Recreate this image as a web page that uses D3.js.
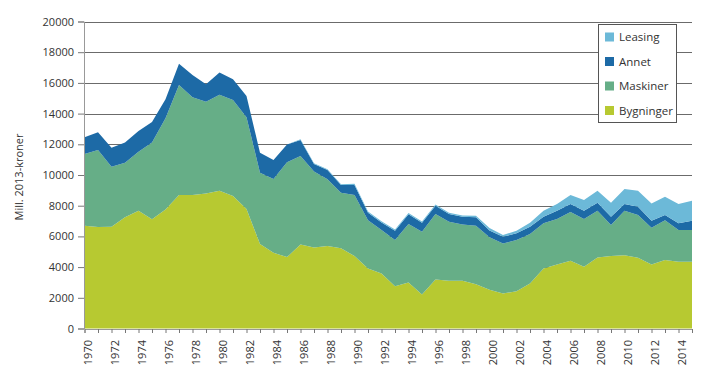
<!DOCTYPE html>
<html><head><meta charset="utf-8">
<script src="https://cdn.jsdelivr.net/npm/d3@7"></script>
<style>body{margin:0;background:#fff}svg{display:block}text{font-family:"Open Sans",sans-serif}</style>
</head><body><svg id="c" width="719" height="383"></svg>
<script>
const years = d3.range(1970, 2016);
const bygninger = [6700,6610,6630,7240,7670,7110,7760,8700,8700,8800,8980,8630,7780,5500,4930,4650,5480,5280,5370,5220,4720,3910,3590,2760,3000,2220,3200,3110,3110,2890,2520,2280,2430,2930,3910,4170,4410,4020,4630,4720,4780,4610,4170,4460,4350,4350];
const maskiner = [4670,5020,3910,3560,3850,5000,5940,7170,6370,5980,6240,6260,5980,4650,4810,6180,5760,4940,4350,3630,3980,3150,2820,3000,3800,4080,4260,3850,3670,3800,3430,3260,3330,3220,2940,2960,3180,3110,3040,2020,2890,2780,2390,2600,2060,2060];
const annet = [1090,1160,1240,1310,1350,1350,1240,1370,1450,1140,1450,1350,1390,1300,1240,1150,1040,500,610,500,650,480,500,610,640,590,540,500,500,550,440,440,440,480,430,540,520,540,520,540,440,540,460,330,440,610];
const leasing = [0,0,0,0,0,0,0,0,0,0,0,0,0,0,0,0,50,50,50,50,80,80,80,80,80,80,80,80,80,100,150,110,170,260,390,440,590,700,790,910,980,1050,1130,1200,1260,1310];
const seriesNames = ["Bygninger","Maskiner","Annet","Leasing"];
const colors = {"Bygninger":"#b7c931","Maskiner":"#66ae87","Annet":"#1d6aa6","Leasing":"#6cb9d8"};
const yTicks = [0,2000,4000,6000,8000,10000,12000,14000,16000,18000,20000];
const yTitle = "Mill. 2013-kroner";

const rows = years.map((y,i)=>({year:y,Bygninger:bygninger[i],Maskiner:maskiner[i],Annet:annet[i],Leasing:leasing[i]}));
const svg = d3.select("#c");
const x = d3.scaleLinear().domain([1970,2015]).range([84.5,692]);
const yS = d3.scaleLinear().domain([0,20000]).range([328.5,21.5]);

// gridlines
svg.append("g").selectAll("line").data(yTicks.filter(d=>d>0)).join("line")
  .attr("x1",84.5).attr("x2",692).attr("y1",d=>Math.round(yS(d))+0.5).attr("y2",d=>Math.round(yS(d))+0.5)
  .attr("stroke","#6b6b6b").attr("stroke-width",1);

const stack = d3.stack().keys(seriesNames)(rows);
const area = d3.area().x(d=>x(d.data.year)).y0(d=>yS(d[0])).y1(d=>yS(d[1]));
svg.append("g").selectAll("path").data(stack).join("path")
  .attr("d",area).attr("fill",d=>colors[d.key]);

// y axis
const ya = svg.append("g").attr("transform","translate(84,0)")
  .call(d3.axisLeft(yS).tickValues(yTicks).tickSize(6).tickPadding(4).tickFormat(d3.format("d")));
ya.select(".domain").attr("stroke","#999");
ya.selectAll(".tick line").attr("stroke","#777");
ya.selectAll("text").attr("font-size","11px").attr("fill","#333").style("font-family","'Open Sans',sans-serif");

// x axis
const xa = svg.append("g").attr("transform","translate(0,329)")
  .call(d3.axisBottom(x).tickValues(years).tickSize(4).tickFormat(d=> (d%2===0 && d<2015)? String(d):""));
xa.select(".domain").attr("stroke","#999");
xa.selectAll(".tick line").attr("stroke","#777");
xa.selectAll("text").attr("font-size","11px").attr("fill","#333")
  .attr("transform","rotate(-90)").attr("text-anchor","end").attr("dy","0.35em").attr("x",-11).attr("y",3)
  .style("font-family","'Open Sans',sans-serif");

// y title
svg.append("text").attr("transform","translate(23,177) rotate(-90)").attr("text-anchor","middle")
  .attr("font-size","11px").attr("fill","#333").text(yTitle);

// legend
const lg = svg.append("g");
lg.append("rect").attr("x",598.5).attr("y",24.5).attr("width",78).attr("height",98)
  .attr("fill","#fff").attr("stroke","#555").attr("stroke-width",1);
const legendOrder = ["Leasing","Annet","Maskiner","Bygninger"];
legendOrder.forEach((k,i)=>{
  const cy = 37 + i*24.5;
  lg.append("rect").attr("x",605).attr("y",cy-4.5).attr("width",9).attr("height",9).attr("fill",colors[k]);
  lg.append("text").attr("x",619).attr("y",cy).attr("dy","0.35em").attr("font-size","11.5px").attr("fill","#333").text(k);
});
</script></body></html>
